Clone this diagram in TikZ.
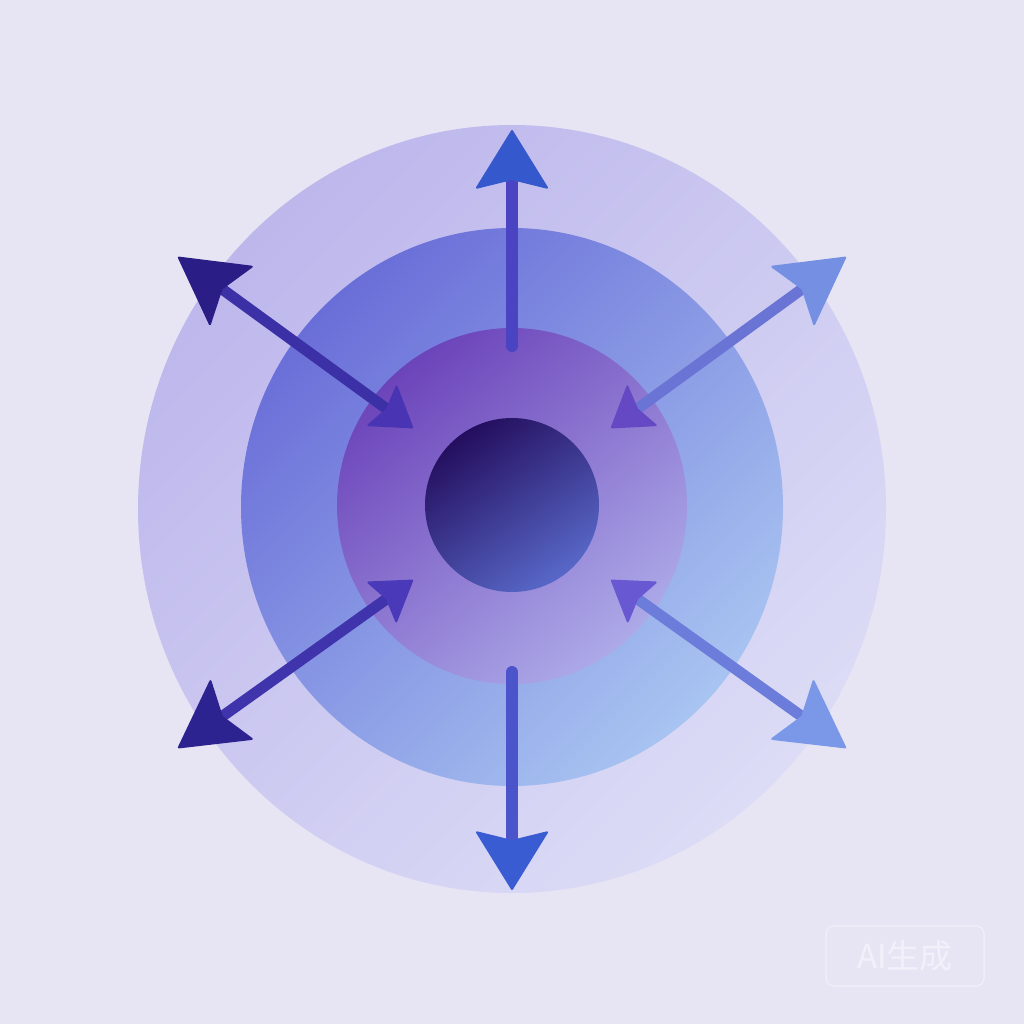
\documentclass[tikz,border=0pt]{standalone}
\usepackage{fontspec}
\newfontfamily\cjkfont{Noto Sans CJK SC}
\usetikzlibrary{arrows.meta}
\definecolor{bg}{HTML}{E7E5F3}
\definecolor{outerA}{HTML}{BDB7EC}
\definecolor{outerB}{HTML}{DCDCF6}
\definecolor{midA}{HTML}{6A6ED8}
\definecolor{midB}{HTML}{A8C4F1}
\definecolor{purA}{HTML}{6C44BA}
\definecolor{purB}{HTML}{ADAAE8}
\definecolor{coreA}{HTML}{240E5E}
\definecolor{coreM}{HTML}{3D268C}
\definecolor{coreB}{HTML}{5868C8}
\definecolor{upHead}{HTML}{3558CC}
\definecolor{upShaft}{HTML}{4A44C2}
\definecolor{dnHead}{HTML}{3A5CD2}
\definecolor{dnShaft}{HTML}{4C54CC}
\definecolor{ulOut}{HTML}{2A1E86}
\definecolor{ulShaft}{HTML}{3C30A6}
\definecolor{ulIn}{HTML}{4934B4}
\definecolor{llOut}{HTML}{2D2390}
\definecolor{llShaft}{HTML}{4034AC}
\definecolor{llIn}{HTML}{4A3ABA}
\definecolor{urOut}{HTML}{7590E2}
\definecolor{urShaft}{HTML}{6A74D4}
\definecolor{urIn}{HTML}{6448C4}
\definecolor{lrOut}{HTML}{7B98E8}
\definecolor{lrShaft}{HTML}{6C7CDA}
\definecolor{lrIn}{HTML}{6858D2}
\definecolor{wmline}{HTML}{EFEEF8}
\definecolor{wmtext}{HTML}{F2F1FA}
\pgfkeys{
  /pgf/arrow keys/vhead/.style={length=60pt, width=74pt, inset=9pt, line width=2pt, round, color=#1, fill=#1},
  /pgf/arrow keys/ohead/.style={length=68pt, width=75pt, inset=12pt, line width=2pt, round, color=#1, fill=#1},
  /pgf/arrow keys/ihead/.style={length=40pt, width=52pt, inset=6pt, line width=2pt, round, color=#1, fill=#1}
}
\tikzset{
  shaft/.style={line width=12pt, line cap=round},
  wmark/.style={draw=wmline, line width=1.5pt, rounded corners=8pt, minimum width=158pt,
    minimum height=60pt, inner sep=0pt, text=wmtext, font=\cjkfont\fontsize{33}{33}\selectfont}
}
\begin{document}
\begin{tikzpicture}[x=1pt,y=-1pt]
\fill[bg] (0,0) rectangle (1024,1024);
% centres
\coordinate (c0) at (512,509);
\coordinate (c1) at (512,507);
\coordinate (c2) at (512,506);
\coordinate (c3) at (512,505);
% rings
\shade[top color=outerA, bottom color=outerB, shading angle=45] (c0) ellipse [x radius=374, y radius=384];
\shade[top color=midA, bottom color=midB, shading angle=45] (c1) ellipse [x radius=271, y radius=279];
\shade[top color=purA, bottom color=purB, shading angle=40] (c2) ellipse [x radius=175, y radius=178];
\shade[top color=coreA, middle color=coreM, bottom color=coreB, shading angle=35] (c3) circle [radius=87];
% arrow end points
\coordinate (upS) at (512,346);
\coordinate (upT) at (512,130);
\coordinate (dnS) at (512,672);
\coordinate (dnT) at (512,890);
\coordinate (ulI) at (413,428);
\coordinate (ulO) at (178,257);
\coordinate (urI) at (611,428);
\coordinate (urO) at (846,257);
\coordinate (llI) at (413,580);
\coordinate (llO) at (178,748);
\coordinate (lrI) at (611,580);
\coordinate (lrO) at (846,748);
% arrows
\draw[shaft, upShaft, -{Stealth[vhead=upHead]}] (upS) -- (upT);
\draw[shaft, dnShaft, -{Stealth[vhead=dnHead]}] (dnS) -- (dnT);
\draw[shaft, line width=11pt, ulShaft, {Stealth[ihead=ulIn]}-{Stealth[ohead=ulOut]}] (ulI) -- (ulO);
\draw[shaft, line width=11pt, urShaft, {Stealth[ihead=urIn]}-{Stealth[ohead=urOut]}] (urI) -- (urO);
\draw[shaft, line width=11pt, llShaft, {Stealth[ihead=llIn]}-{Stealth[ohead=llOut]}] (llI) -- (llO);
\draw[shaft, line width=11pt, lrShaft, {Stealth[ihead=lrIn]}-{Stealth[ohead=lrOut]}] (lrI) -- (lrO);
% watermark
\node[wmark] (wm) at (905,956) {AI生成};
\end{tikzpicture}
\end{document}
